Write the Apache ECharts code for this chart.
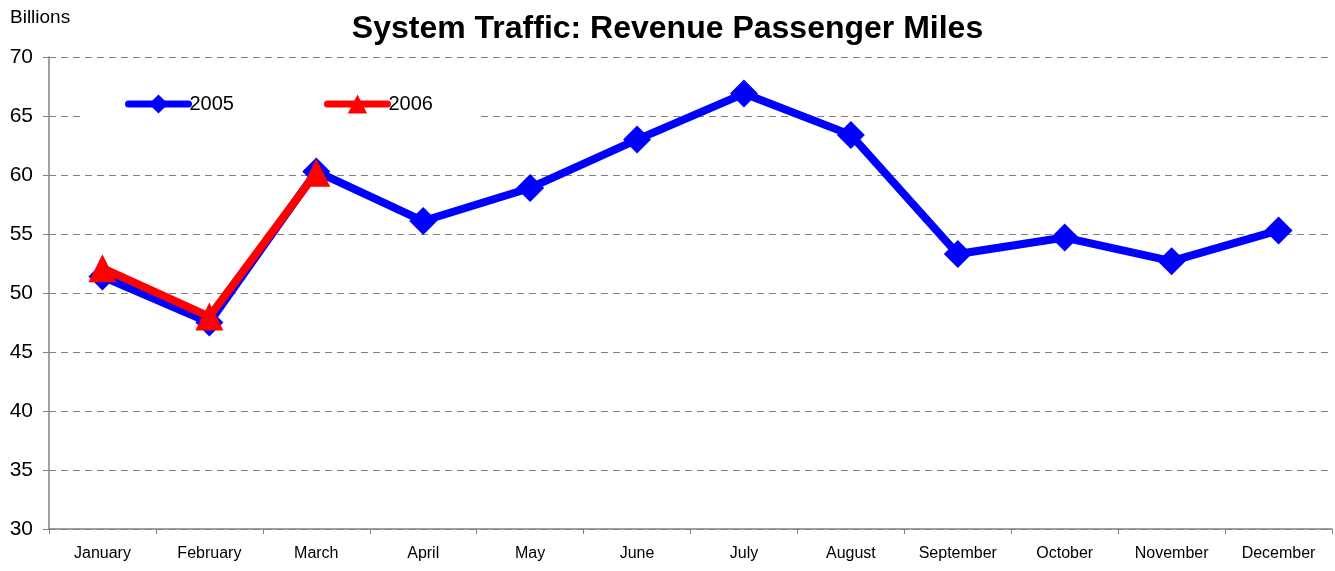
<!DOCTYPE html>
<html>
<head>
<meta charset="utf-8">
<script src="https://cdn.jsdelivr.net/npm/echarts@6/dist/echarts.min.js"></script>
<style>
  html, body { margin: 0; padding: 0; background: #fff; }
  #chart { width: 1335px; height: 571px; }
</style>
</head>
<body>
<div id="chart"></div>
<script>
const months = ['January', 'February', 'March', 'April', 'May', 'June', 'July', 'August', 'September', 'October', 'November', 'December'];
const rpm2005 = [51.4, 47.5, 60.3, 56.1, 58.9, 63.0, 66.9, 63.4, 53.3, 54.7, 52.7, 55.3];
const rpm2006 = [52.1, 48.0, 60.2];

const FONT = '"Liberation Sans", Arial, sans-serif';
const GRID_LINE = '#808080';

const chart = echarts.init(document.getElementById('chart'));
chart.setOption({
  animation: false,
  textStyle: { fontFamily: FONT },
  title: {
    text: 'System Traffic: Revenue Passenger Miles',
    left: 'center',
    top: 8,
    textStyle: { fontSize: 32, fontWeight: 'bold', color: '#000', fontFamily: FONT },
  },
  graphic: [
    { type: 'text', left: 10, top: 8, style: { text: 'Billions', fontSize: 19, fill: '#000', fontFamily: FONT } },
  ],
  legend: {
    left: 80,
    top: 88,
    padding: [6, 45, 6, 45],
    backgroundColor: '#fff',
    itemWidth: 60,
    itemHeight: 24,
    itemGap: 90,
    lineStyle: { width: 7, cap: 'round' },
    textStyle: { fontSize: 20, color: '#000', fontFamily: FONT, padding: [0, 0, 0, -4] },
    data: ['2005', '2006'],
  },
  grid: { left: 49, right: 3, top: 57, bottom: 42 },
  xAxis: {
    type: 'category',
    data: months,
    boundaryGap: true,
    axisLine: { lineStyle: { color: '#808080', width: 1.5 } },
    axisTick: { show: true, length: 5, lineStyle: { color: '#808080' } },
    axisLabel: { color: '#000', fontSize: 16, margin: 17 },
  },
  yAxis: {
    type: 'value',
    min: 30,
    max: 70,
    interval: 5,
    axisLine: { show: true, lineStyle: { color: '#808080', width: 1.5 } },
    axisTick: { show: true, length: 6, lineStyle: { color: '#808080' } },
    axisLabel: { color: '#000', fontSize: 21, margin: 16 },
    splitLine: { show: true, lineStyle: { color: GRID_LINE, type: [7, 5], width: 1 } },
  },
  series: [
    {
      name: '2005',
      type: 'line',
      data: rpm2005,
      symbol: 'diamond',
      symbolSize: 28,
      lineStyle: { color: '#0000ff', width: 8 },
      itemStyle: { color: '#0000ff' },
      z: 2,
    },
    {
      name: '2006',
      type: 'line',
      data: rpm2006,
      symbol: 'triangle',
      symbolSize: 28,
      lineStyle: { color: '#ff0000', width: 8 },
      itemStyle: { color: '#ff0000' },
      z: 3,
    },
  ],
});
</script>
</body>
</html>
